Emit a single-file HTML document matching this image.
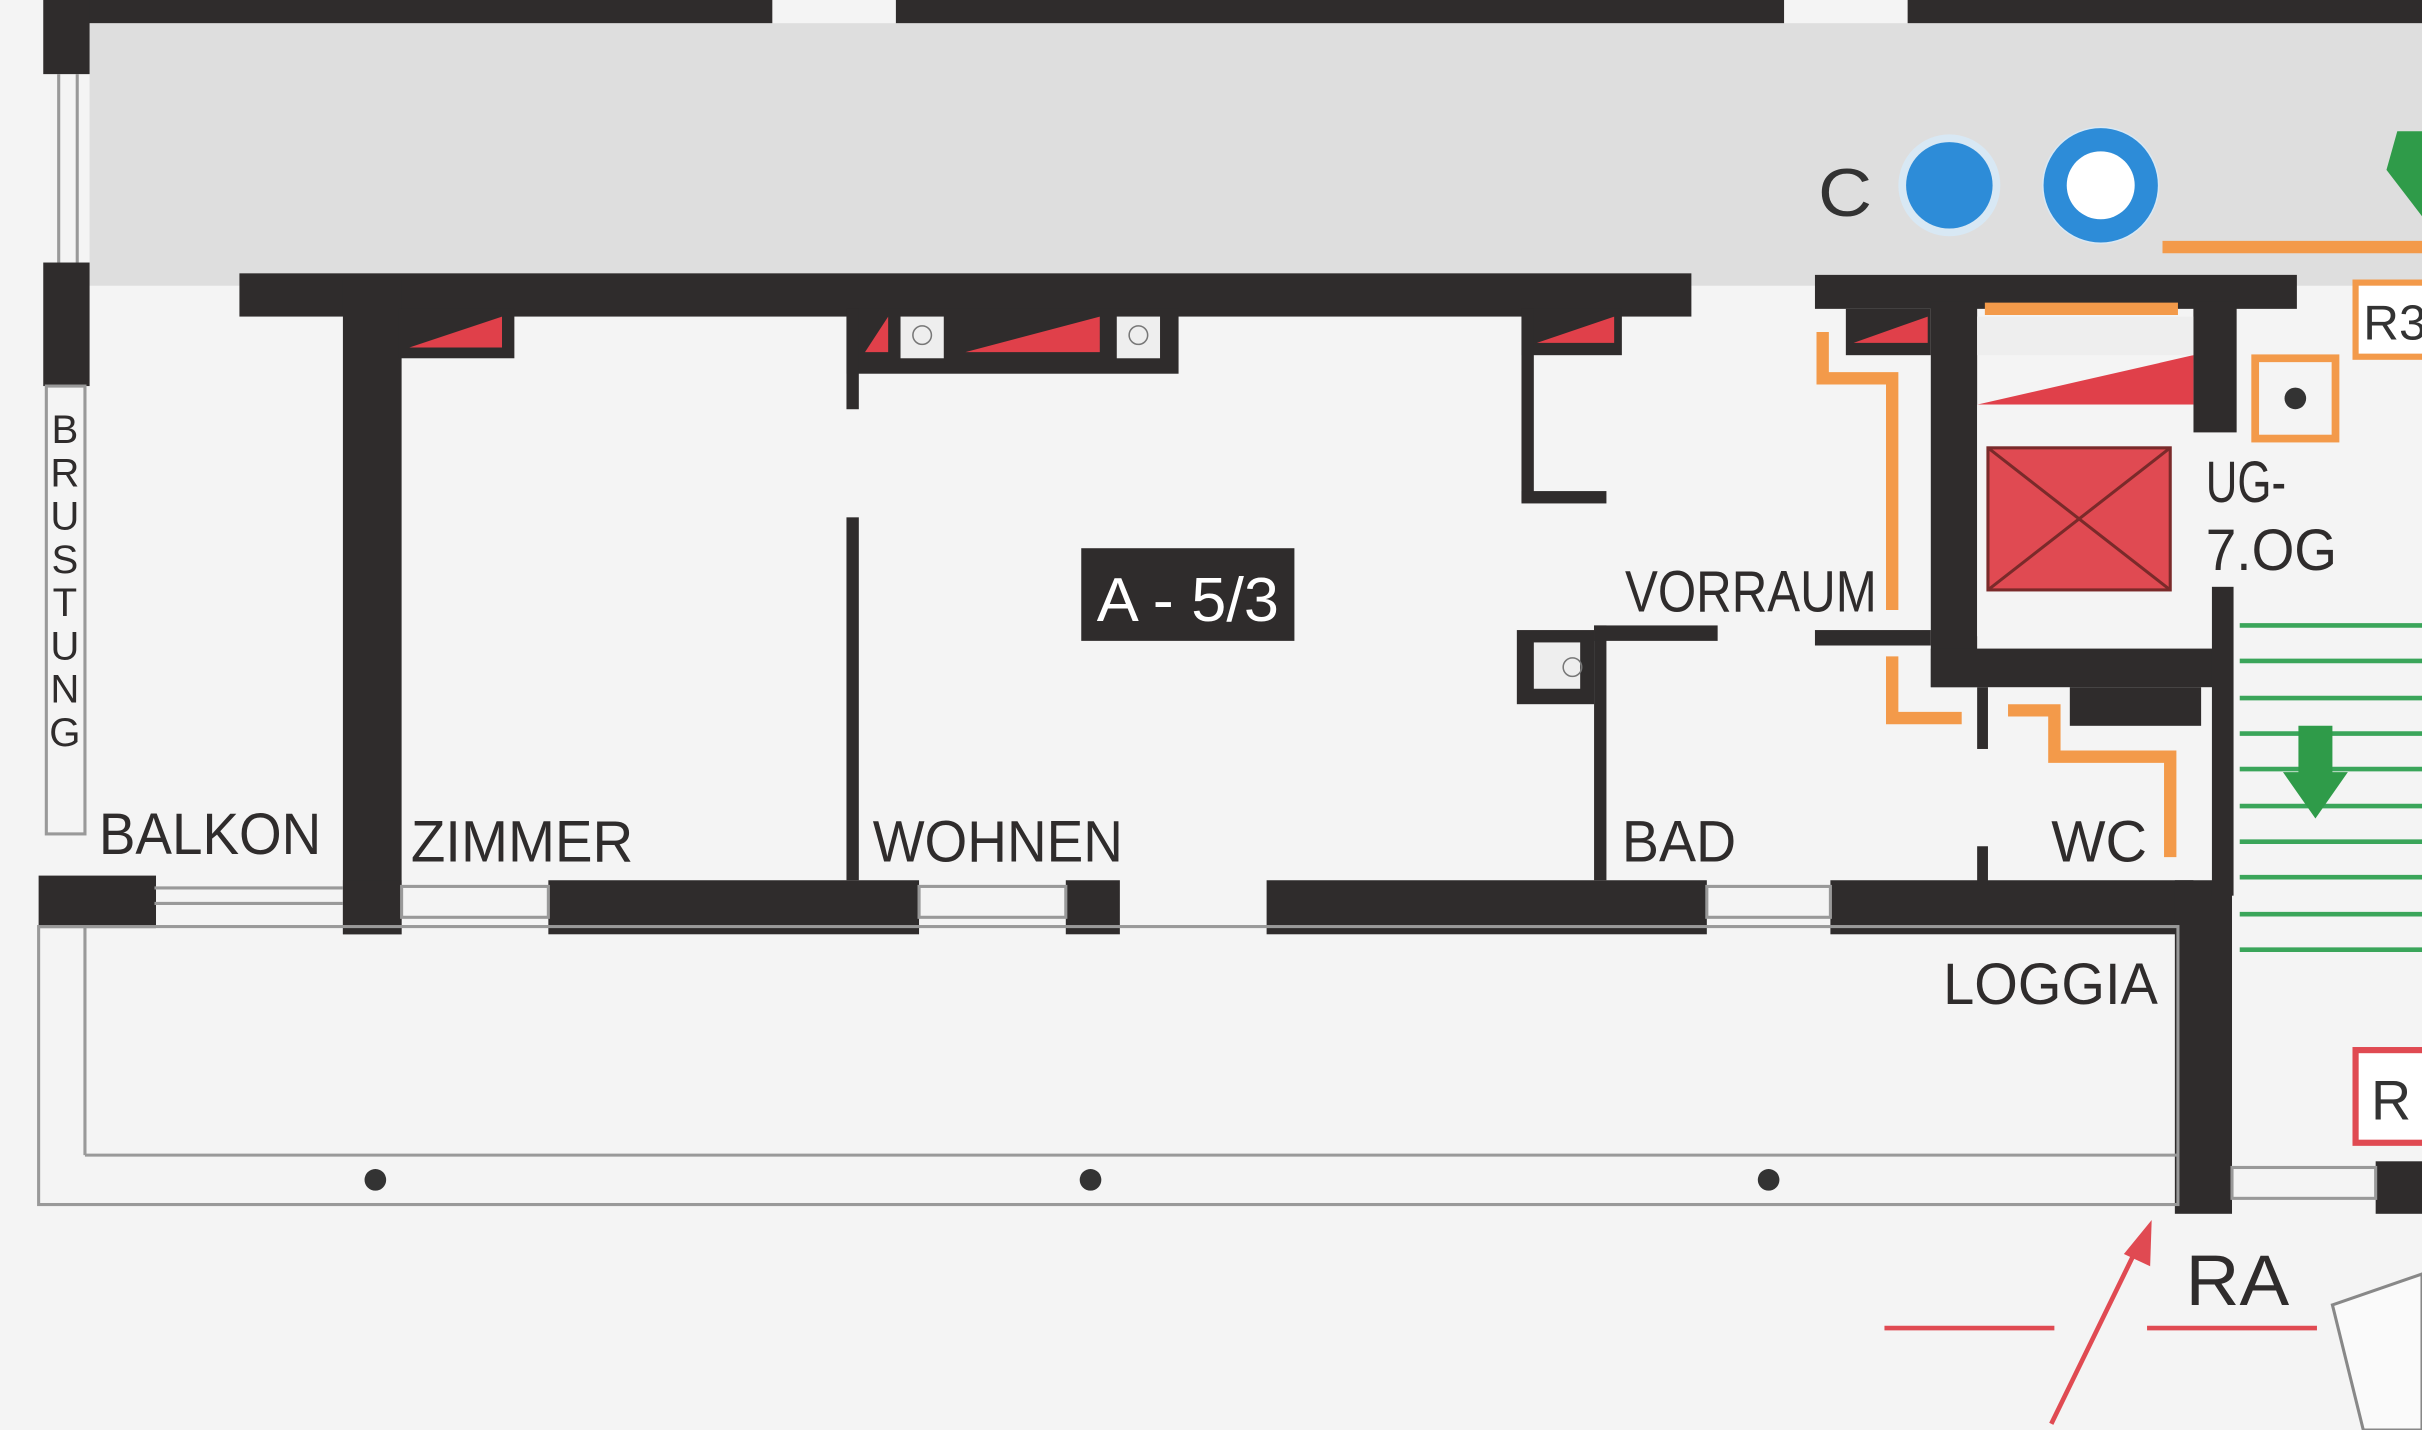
<!DOCTYPE html>
<html><head><meta charset="utf-8"><style>
html,body{margin:0;padding:0;background:#f3f3f3;}
svg{display:block;}
text{font-family:"Liberation Sans",sans-serif;}
</style></head><body>
<svg width="2422" height="1430" viewBox="0 0 1568 926" preserveAspectRatio="none" xmlns="http://www.w3.org/2000/svg">
<rect width="1568" height="926" fill="#f4f4f4"/>
<rect x="58" y="15" width="1510" height="170" fill="#dedede"/>
<g fill="#2f2c2c">
<rect x="30" y="0" width="470" height="15"/>
<rect x="580" y="0" width="575" height="15"/>
<rect x="1235" y="0" width="333" height="15"/>
<rect x="28" y="0" width="30" height="48"/>
<rect x="28" y="170" width="30" height="80"/>
<rect x="25" y="567" width="76" height="34"/>
<rect x="155" y="177" width="940" height="28"/>
<rect x="222" y="180" width="38" height="425"/>
<rect x="258" y="200" width="75" height="32"/>
<rect x="548" y="200" width="215" height="42"/>
<rect x="548" y="200" width="8" height="65"/>
<rect x="548" y="335" width="8" height="235"/>
<rect x="985" y="200" width="65" height="30"/>
<rect x="985" y="200" width="8" height="125"/>
<rect x="985" y="318" width="55" height="8"/>
<rect x="222" y="570" width="38" height="35"/>
<rect x="355" y="570" width="240" height="35"/>
<rect x="690" y="570" width="35" height="35"/>
<rect x="820" y="570" width="285" height="35"/>
<rect x="1185" y="570" width="235" height="35"/>
<rect x="1408" y="570" width="37" height="216"/>
<rect x="1032" y="405" width="8" height="165"/>
<rect x="1032" y="405" width="80" height="10"/>
<rect x="982" y="408" width="50" height="48"/>
<rect x="1175" y="178" width="312" height="22"/>
<rect x="1250" y="195" width="30" height="250"/>
<rect x="1420" y="195" width="28" height="85"/>
<rect x="1175" y="408" width="75" height="10"/>
<rect x="1250" y="420" width="190" height="25"/>
<rect x="1432" y="380" width="14" height="200"/>
<rect x="1280" y="445" width="7" height="40"/>
<rect x="1280" y="548" width="7" height="25"/>
<rect x="1340" y="445" width="85" height="25"/>
<rect x="1195" y="200" width="55" height="30"/>
<rect x="1538" y="752" width="30" height="34"/>
</g>
<rect x="993" y="416" width="30" height="30" fill="#eee"/>
<circle cx="1018" cy="432" r="6" fill="none" stroke="#777"/>
<rect x="583" y="205" width="28" height="27" fill="#eee"/><circle cx="597" cy="217" r="6" fill="none" stroke="#777"/>
<rect x="723" y="205" width="28" height="27" fill="#eee"/><circle cx="737" cy="217" r="6" fill="none" stroke="#777"/>
<g fill="#e0404a">
<polygon points="265,225 325,225 325,205"/>
<polygon points="560,228 575,228 575,205"/>
<polygon points="625,228 712,228 712,205"/>
<polygon points="995,222 1045,222 1045,205"/>
<polygon points="1200,222 1248,222 1248,205"/>
<polygon points="1280,262 1420,262 1420,230"/>
</g>
<rect x="1280" y="205" width="140" height="25" fill="#eee"/>
<rect x="1280" y="262" width="140" height="150" fill="#f4f4f4"/>
<rect x="1287" y="290" width="118" height="92" fill="#e04a52" stroke="#7a2a2a" stroke-width="2"/>
<line x1="1287" y1="290" x2="1405" y2="382" stroke="#7a2a2a" stroke-width="2"/>
<line x1="1405" y1="290" x2="1287" y2="382" stroke="#7a2a2a" stroke-width="2"/>
<g fill="none" stroke="#f39a4a" stroke-width="8">
<polyline points="1180,215 1180,245 1225,245 1225,395"/>
<polyline points="1225,425 1225,465 1270,465"/>
<polyline points="1300,460 1330,460 1330,490 1405,490 1405,555"/>
<line x1="1285" y1="200" x2="1410" y2="200"/>
<line x1="1400" y1="160" x2="1568" y2="160"/>
</g>
<rect x="1460" y="232" width="52" height="52" fill="none" stroke="#f39a4a" stroke-width="5"/>
<circle cx="1486" cy="258" r="7" fill="#333"/>
<rect x="1525" y="183" width="50" height="48" fill="#fff" stroke="#f39a4a" stroke-width="4"/>
<text x="1530" y="220" font-size="32" fill="#333">R3</text>
<rect x="1525" y="680" width="50" height="60" fill="#fff" stroke="#e04a52" stroke-width="4"/>
<text x="1535" y="725" font-size="36" fill="#333">R</text>
<circle cx="1262" cy="120" r="33" fill="#d8e8f4"/>
<circle cx="1262" cy="120" r="28" fill="#2d8cd8"/>
<circle cx="1360" cy="120" r="38" fill="#d8e8f4"/>
<circle cx="1360" cy="120" r="37" fill="#2d8cd8"/>
<circle cx="1360" cy="120" r="22" fill="#fff"/>
<text x="1177" y="140" font-size="44" fill="#333" textLength="35" lengthAdjust="spacingAndGlyphs">C</text>
<g stroke="#3aa55a" stroke-width="3">
<line x1="1450" y1="405" x2="1568" y2="405"/><line x1="1450" y1="428" x2="1568" y2="428"/>
<line x1="1450" y1="452" x2="1568" y2="452"/><line x1="1450" y1="475" x2="1568" y2="475"/>
<line x1="1450" y1="498" x2="1568" y2="498"/><line x1="1450" y1="522" x2="1568" y2="522"/>
<line x1="1450" y1="545" x2="1568" y2="545"/><line x1="1450" y1="568" x2="1568" y2="568"/>
<line x1="1450" y1="592" x2="1568" y2="592"/><line x1="1450" y1="615" x2="1568" y2="615"/>
</g>
<polygon points="1488,470 1510,470 1510,500 1520,500 1499,530 1478,500 1488,500" fill="#2f9b49"/>
<polygon points="1552,85 1568,85 1568,140 1545,110" fill="#2f9b49"/>
<g stroke="#999" stroke-width="2" fill="none">
<rect x="25" y="600" width="1385" height="180"/>
<line x1="55" y1="748" x2="1410" y2="748"/>
<line x1="55" y1="600" x2="55" y2="748"/>
<line x1="100" y1="575" x2="222" y2="575"/><line x1="100" y1="585" x2="222" y2="585"/>
<rect x="260" y="574" width="95" height="20"/><rect x="595" y="574" width="95" height="20"/>
<rect x="1105" y="574" width="80" height="20"/><rect x="1445" y="756" width="93" height="20"/>
<line x1="38" y1="48" x2="38" y2="170"/><line x1="50" y1="48" x2="50" y2="170"/>
<rect x="30" y="250" width="25" height="290"/>
</g>
<circle cx="243" cy="764" r="7" fill="#333"/><circle cx="706" cy="764" r="7" fill="#333"/><circle cx="1145" cy="764" r="7" fill="#333"/>
<rect x="700" y="355" width="138" height="60" fill="#2f2c2c"/>
<text x="710" y="402" font-size="40" fill="#fff" textLength="118" lengthAdjust="spacingAndGlyphs">A - 5/3</text>
<g font-size="38" fill="#2f2c2c">
<text x="64" y="553" textLength="144" lengthAdjust="spacingAndGlyphs">BALKON</text>
<text x="266" y="558" textLength="144" lengthAdjust="spacingAndGlyphs">ZIMMER</text>
<text x="565" y="558" textLength="162" lengthAdjust="spacingAndGlyphs">WOHNEN</text>
<text x="1050" y="558" textLength="74" lengthAdjust="spacingAndGlyphs">BAD</text>
<text x="1328" y="558" textLength="62" lengthAdjust="spacingAndGlyphs">WC</text>
<text x="1258" y="650" textLength="139" lengthAdjust="spacingAndGlyphs">LOGGIA</text>
<text x="1052" y="396" textLength="163" lengthAdjust="spacingAndGlyphs">VORRAUM</text>
<text x="1428" y="325" textLength="52" lengthAdjust="spacingAndGlyphs">UG-</text>
<text x="1428" y="369" textLength="85" lengthAdjust="spacingAndGlyphs">7.OG</text>
<text x="1415" y="845" font-size="46" textLength="67" lengthAdjust="spacingAndGlyphs">RA</text>
</g>
<g font-size="26" fill="#2f2c2c" text-anchor="middle">
<text x="42" y="287">B</text><text x="42" y="315">R</text><text x="42" y="343">U</text>
<text x="42" y="371">S</text><text x="42" y="399">T</text><text x="42" y="427">U</text>
<text x="42" y="455">N</text><text x="42" y="483">G</text>
</g>
<g stroke="#e04a52" stroke-width="3">
<line x1="1220" y1="860" x2="1330" y2="860"/><line x1="1390" y1="860" x2="1500" y2="860"/>
<line x1="1328" y1="922" x2="1385" y2="805"/>
</g>
<polygon points="1393,790 1392,820 1375,812" fill="#e04a52"/>
<polygon points="1510,845 1568,825 1568,926 1530,926" fill="#fafafa" stroke="#888" stroke-width="2"/>
</svg>
</body></html>
